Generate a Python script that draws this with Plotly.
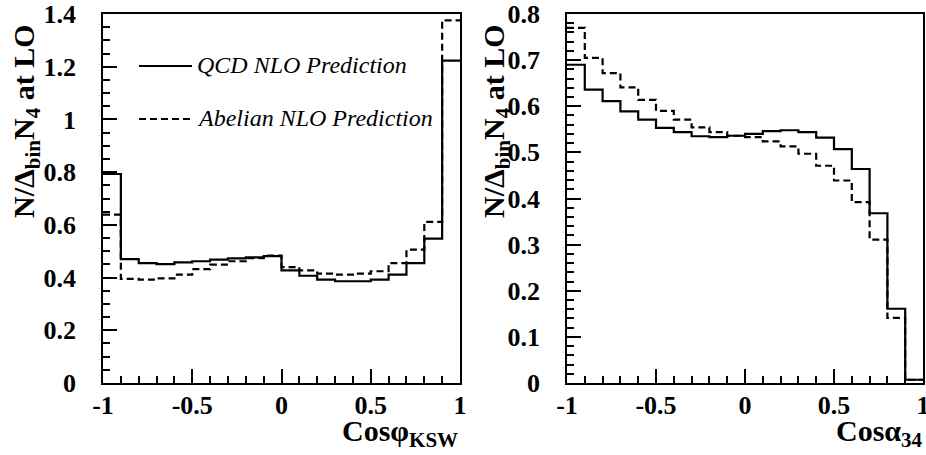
import plotly.graph_objects as go

# ---- data ----
bin_edges = [round(-1 + 0.1 * i, 1) for i in range(21)]

qcd_phi = [0.793, 0.470, 0.455, 0.451, 0.458, 0.462, 0.468, 0.473, 0.477, 0.481,
           0.427, 0.407, 0.392, 0.386, 0.386, 0.392, 0.411, 0.455, 0.548, 1.223]
abel_phi = [0.639, 0.395, 0.392, 0.397, 0.411, 0.432, 0.449, 0.462, 0.474, 0.483,
            0.440, 0.427, 0.415, 0.411, 0.415, 0.424, 0.455, 0.506, 0.611, 1.376]

qcd_alpha = [0.690, 0.636, 0.611, 0.589, 0.571, 0.553, 0.544, 0.535, 0.533, 0.536,
             0.540, 0.546, 0.548, 0.544, 0.532, 0.507, 0.464, 0.368, 0.161, 0.007]
abel_alpha = [0.770, 0.705, 0.672, 0.641, 0.614, 0.590, 0.571, 0.554, 0.544, 0.536,
              0.533, 0.524, 0.513, 0.497, 0.471, 0.439, 0.392, 0.311, 0.141, 0.007]

x_tickvals = [-1, -0.5, 0, 0.5, 1]
x_ticktext = ["-1", "-0.5", "0", "0.5", "1"]
y1_tickvals = [0, 0.2, 0.4, 0.6, 0.8, 1.0, 1.2, 1.4]
y1_ticktext = ["0", "0.2", "0.4", "0.6", "0.8", "1", "1.2", "1.4"]
y2_tickvals = [0, 0.1, 0.2, 0.3, 0.4, 0.5, 0.6, 0.7, 0.8]
y2_ticktext = ["0", "0.1", "0.2", "0.3", "0.4", "0.5", "0.6", "0.7", "0.8"]

legend_names = ["QCD NLO Prediction", "Abelian NLO Prediction"]
y_title = "N/Δ<sub>bin</sub>N<sub>4</sub> at LO"
x1_title = "Cosφ<sub>KSW</sub>"
x2_title = "Cosα<sub>34</sub>"

W, H = 926, 455
FONT = "Liberation Serif"


def step_xy(edges, vals):
    return list(edges), list(vals) + [vals[-1]]


fig = go.Figure()

for vals, dash, xa, ya in [
    (qcd_phi, "solid", "x", "y"),
    (abel_phi, "7px,4px", "x", "y"),
    (qcd_alpha, "solid", "x2", "y2"),
    (abel_alpha, "7px,4px", "x2", "y2"),
]:
    xs, ys = step_xy(bin_edges, vals)
    fig.add_trace(go.Scatter(x=xs, y=ys, mode="lines", line_shape="hv",
                             line=dict(color="black", width=2.2, dash=dash),
                             xaxis=xa, yaxis=ya, showlegend=False, hoverinfo="skip"))

px = lambda v: v / W
py = lambda v: 1 - v / H

tickfont = dict(family=FONT, size=26, color="black", weight="bold")

xcommon = dict(range=[-1, 1], tickmode="array", tickvals=x_tickvals, ticktext=x_ticktext,
               ticks="inside", ticklen=14, tickwidth=1.5, tickcolor="black",
               showline=True, linecolor="black", linewidth=1.5, mirror=True,
               showgrid=False, zeroline=False, tickfont=tickfont, ticklabelstandoff=-2,
               automargin=False, ticklabeloverflow="allow",
               minor=dict(tickmode="linear", tick0=-1, dtick=0.1, ticks="inside",
                          ticklen=7, tickwidth=1.5, tickcolor="black", showgrid=False))
ycommon = dict(ticks="inside", ticklen=14, tickwidth=1.5, tickcolor="black",
               showline=True, linecolor="black", linewidth=1.5, mirror=True,
               showgrid=False, zeroline=False, tickfont=tickfont, ticklabelstandoff=20,
               tickmode="array", automargin=False, ticklabeloverflow="allow")

fig.update_layout(
    width=W, height=H, margin=dict(l=0, r=0, t=0, b=0, autoexpand=False),
    paper_bgcolor="white", plot_bgcolor="white", showlegend=False,
    xaxis=dict(domain=[px(103), px(460)], anchor="y", **xcommon),
    xaxis2=dict(domain=[px(567), px(923)], anchor="y2", **xcommon),
    yaxis=dict(domain=[py(383), py(14)], anchor="x", range=[0, 1.4],
               tickvals=y1_tickvals, ticktext=y1_ticktext,
               minor=dict(tickmode="linear", tick0=0, dtick=0.05, ticks="inside",
                          ticklen=7, tickwidth=1.5, tickcolor="black", showgrid=False),
               **ycommon),
    yaxis2=dict(domain=[py(383), py(14)], anchor="x2", range=[0, 0.8],
                tickvals=y2_tickvals, ticktext=y2_ticktext,
                minor=dict(tickmode="linear", tick0=0, dtick=0.02, ticks="inside",
                           ticklen=7, tickwidth=1.5, tickcolor="black", showgrid=False),
                **ycommon),
)

titlefont = dict(family=FONT, size=30, color="black", weight="bold")
ann = []
for xc in (26, 496):
    ann.append(dict(text=y_title, x=px(xc), y=py(121), xref="paper", yref="paper",
                    textangle=-90, xanchor="center", yanchor="middle", showarrow=False,
                    font=titlefont))
for xr, t in ((460, x1_title), (925, x2_title)):
    ann.append(dict(text=t, x=px(xr), y=py(454), xref="paper", yref="paper",
                    xanchor="right", yanchor="bottom", showarrow=False, font=titlefont))

legfont = dict(family=FONT, size=24, color="black", style="italic")
for name, yl in zip(legend_names, (65, 118)):
    ann.append(dict(text=name, x=px(195), y=py(yl), xref="paper", yref="paper",
                    xanchor="left", yanchor="middle", showarrow=False, font=legfont))
fig.update_layout(annotations=ann)

fig.add_shape(type="line", xref="paper", yref="paper", x0=px(139), x1=px(192), y0=py(66), y1=py(66),
              line=dict(color="black", width=2.2))
fig.add_shape(type="line", xref="paper", yref="paper", x0=px(139), x1=px(192), y0=py(119), y1=py(119),
              line=dict(color="black", width=2.2, dash="7px,4px"))

fig.write_html("out.html")
